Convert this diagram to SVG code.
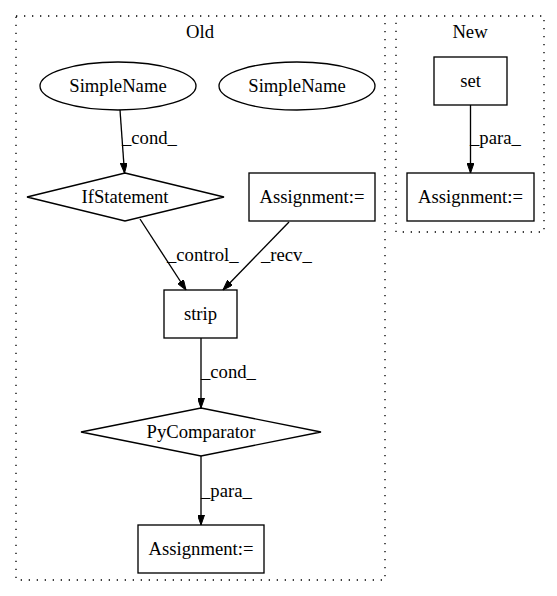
<svg xmlns="http://www.w3.org/2000/svg" width="557" height="596" viewBox="0 0 557 596">
<defs>
<style>
text{font-family:"Liberation Serif","Times New Roman",serif;font-size:18.67px;fill:#000}
.c{text-anchor:middle}
.n{fill:none;stroke:#000;stroke-width:1.33}
.cl{fill:none;stroke:#000;stroke-width:1.33;stroke-dasharray:1.3,6.7}
.e{fill:none;stroke:#000;stroke-width:1.33}
</style>
<marker id="ah" viewBox="0 0 10 7" refX="10" refY="3.5" markerWidth="10" markerHeight="7" markerUnits="userSpaceOnUse" orient="auto">
<path d="M0,0 L10,3.5 L0,7 Z" fill="#000" stroke="#000" stroke-width="1"/>
</marker>
</defs>
<rect width="557" height="596" fill="#fff"/>
<g id="cluster_old">
<rect class="cl" x="16" y="16" width="369" height="564"/>
<text class="c" x="200" y="38">Old</text>
</g>
<g id="cluster_new">
<rect class="cl" x="396" y="16" width="148" height="216"/>
<text class="c" x="470" y="38">New</text>
</g>
<g id="simplename1">
<ellipse class="n" cx="118" cy="86" rx="78" ry="24"/>
<text class="c" x="118" y="92">SimpleName</text>
</g>
<g id="simplename2">
<ellipse class="n" cx="297" cy="86" rx="78" ry="24"/>
<text class="c" x="297" y="92">SimpleName</text>
</g>
<g id="ifstatement">
<polygon class="n" points="125,173 224,197 125,221 27,197"/>
<text class="c" x="125" y="203">IfStatement</text>
</g>
<g id="assign_old_top">
<rect class="n" x="249" y="173" width="126" height="48"/>
<text class="c" x="312" y="203">Assignment:=</text>
</g>
<g id="strip">
<rect class="n" x="164" y="290" width="73" height="48"/>
<text class="c" x="200.5" y="320">strip</text>
</g>
<g id="pycomparator">
<polygon class="n" points="201,408 321,432 201,456 81,432"/>
<text class="c" x="201" y="438">PyComparator</text>
</g>
<g id="assign_old_bottom">
<rect class="n" x="138" y="525" width="126" height="48"/>
<text class="c" x="201" y="555">Assignment:=</text>
</g>
<g id="set">
<rect class="n" x="434" y="57" width="73" height="48"/>
<text class="c" x="470.5" y="87">set</text>
</g>
<g id="assign_new">
<rect class="n" x="407" y="173" width="127" height="48"/>
<text class="c" x="470.5" y="203">Assignment:=</text>
</g>
<g id="connectors">
<path class="e" d="M120,110 L124.5,173" marker-end="url(#ah)"/>
<text x="122" y="144">_cond_</text>
<path class="e" d="M140,219 L186,290" marker-end="url(#ah)"/>
<text x="167" y="261">_control_</text>
<path class="e" d="M289,222 L223,290" marker-end="url(#ah)"/>
<text x="261" y="261">_recv_</text>
<path class="e" d="M201,338 L201,408" marker-end="url(#ah)"/>
<text x="201" y="378">_cond_</text>
<path class="e" d="M201,456 L201,525" marker-end="url(#ah)"/>
<text x="201" y="497">_para_</text>
<path class="e" d="M470.5,105 L470.5,173" marker-end="url(#ah)"/>
<text x="470" y="144">_para_</text>
</g>
</svg>
